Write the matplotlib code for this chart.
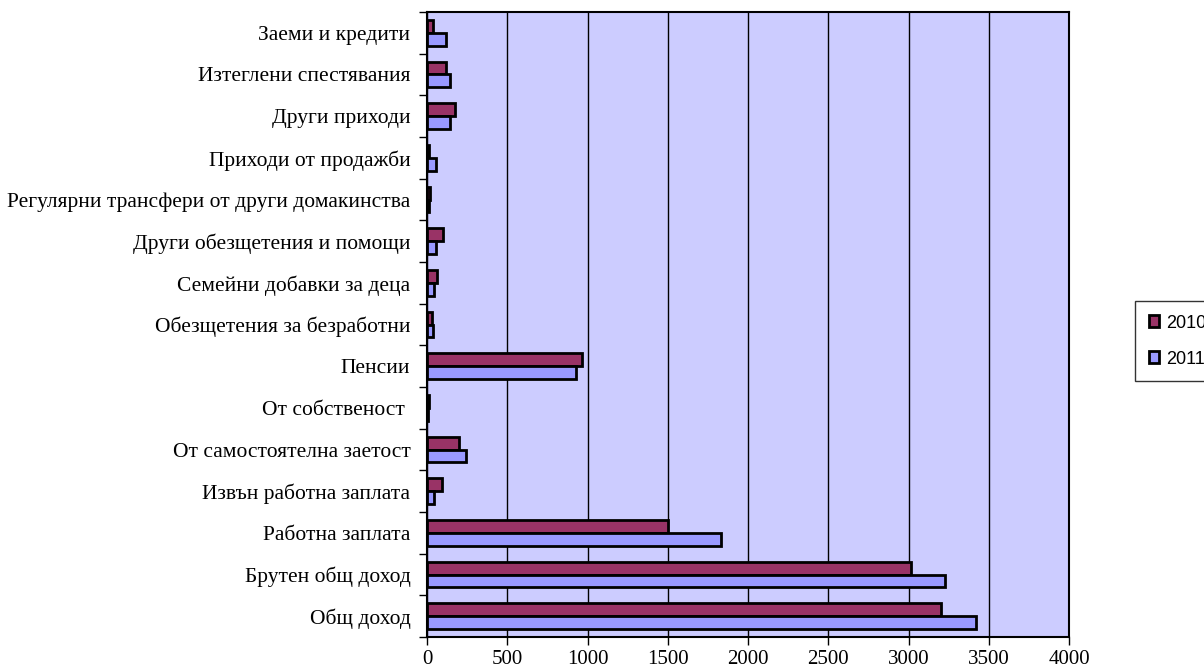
import numpy as np
import matplotlib
matplotlib.use('Agg')
import matplotlib.pyplot as plt
from matplotlib.ticker import MultipleLocator, FixedLocator

# ── Data (bottom → top) ───────────────────────────────────────────────────────
categories = [
    'Общ доход',
    'Брутен общ доход',
    'Работна заплата',
    'Извън работна заплата',
    'От самостоятелна заетост',
    'От собственост ',
    'Пенсии',
    'Обезщетения за безработни',
    'Семейни добавки за деца',
    'Други обезщетения и помощи',
    'Регулярни трансфери от други домакинства',
    'Приходи от продажби',
    'Други приходи',
    'Изтеглени спестявания',
    'Заеми и кредити',
]
vals_2010 = [3202, 3015, 1502, 94, 196, 15, 967, 32, 63, 101, 17, 13, 175, 116, 38]
vals_2011 = [3421, 3224, 1830, 46, 240, 8, 925, 38, 44, 53, 12, 55, 141, 146, 120]

BG_COLOR = '#ccccff'
C_2010 = '#993366'
C_2011 = '#9999ff'

plt.rcParams['font.family'] = ['Liberation Serif', 'DejaVu Serif']

fig = plt.figure(figsize=(12.04, 6.66), dpi=100, facecolor='white')
ax = fig.add_axes([0.3547, 0.0435, 0.5333, 0.9385])
ax.set_facecolor(BG_COLOR)

y = np.arange(len(categories))
h = 0.31
ax.barh(y + h / 2, vals_2010, height=h, color=C_2010, edgecolor='black',
        linewidth=2.0, label='2010', zorder=3)
ax.barh(y - h / 2, vals_2011, height=h, color=C_2011, edgecolor='black',
        linewidth=2.0, label='2011', zorder=3)

ax.set_xlim(0, 4000)
ax.set_ylim(-0.5, len(categories) - 0.5)
ax.xaxis.set_major_locator(MultipleLocator(500))
ax.grid(True, axis='x', color='black', linewidth=1.0, zorder=1)

ax.set_yticks(y)
ax.set_yticklabels(categories, fontsize=15.5)
ax.tick_params(axis='y', length=0, pad=12)
ax.yaxis.set_minor_locator(FixedLocator(np.arange(-0.5, len(categories), 1.0)))
ax.tick_params(axis='y', which='minor', length=6, width=1.0, direction='out')
ax.tick_params(axis='x', length=6, width=1.0, direction='out', labelsize=15, pad=3)

for sp in ax.spines.values():
    sp.set_linewidth(1.5)
    sp.set_color('black')

leg = fig.legend(loc='upper left', bbox_to_anchor=(0.9427, 0.548),
                 frameon=True, fancybox=False, edgecolor='black',
                 handlelength=0.6, handleheight=0.6,
                 handletextpad=0.35, labelspacing=1.05, borderpad=0.75,
                 borderaxespad=0.0,
                 prop={'family': 'Liberation Sans', 'size': 13})
leg.get_frame().set_linewidth(1.0)

fig.savefig('out.png', dpi=100, facecolor='white')
